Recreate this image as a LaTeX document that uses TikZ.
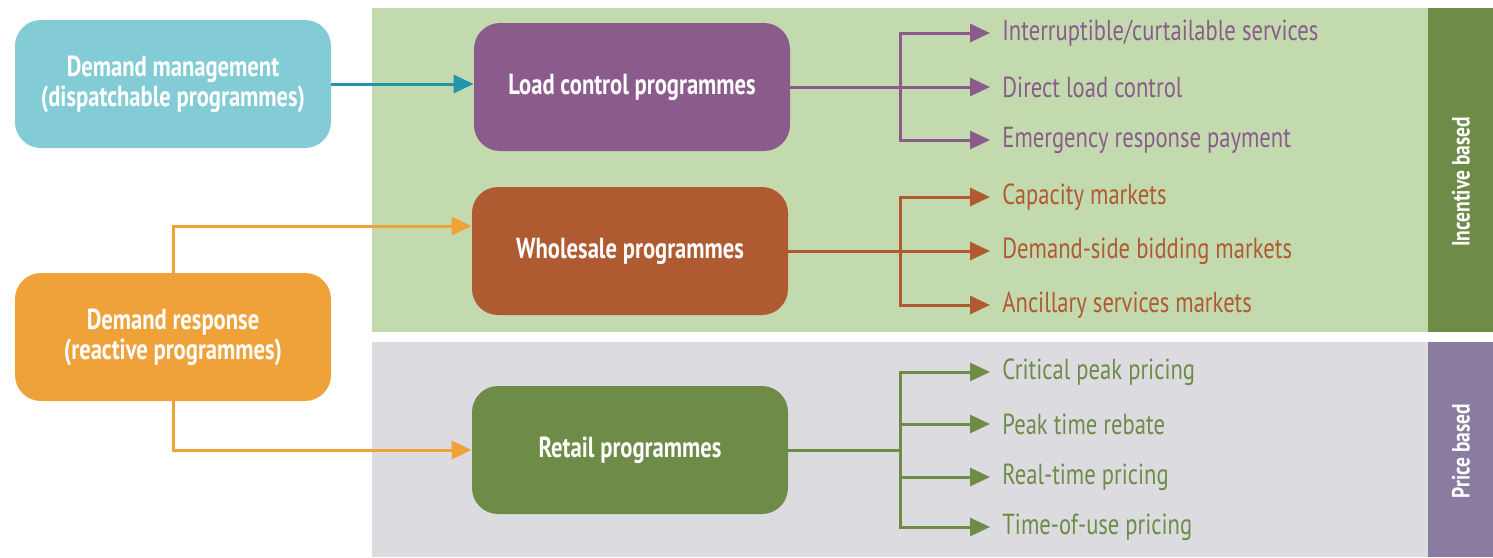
\documentclass[tikz,border=0pt]{standalone}
\usepackage{fontspec}
\setmainfont[FakeStretch=0.78]{PT Sans}
\usetikzlibrary{arrows.meta}
\definecolor{incbg}{HTML}{C3DAAE}
\definecolor{incband}{HTML}{6E8B47}
\definecolor{pribg}{HTML}{DBDBE0}
\definecolor{priband}{HTML}{8A7BA0}
\definecolor{dmcol}{HTML}{84CCD5}
\definecolor{dmarrow}{HTML}{2196AA}
\definecolor{drcol}{HTML}{EFA23A}
\definecolor{lccol}{HTML}{8B5B8C}
\definecolor{wscol}{HTML}{B05A31}
\definecolor{rtcol}{HTML}{6E8B48}
\begin{document}
\begin{tikzpicture}[x=0.5pt,y=-0.5pt,
	box/.style={rounded corners=13pt,minimum width=158pt,minimum height=64pt,
		text=white,font=\fontsize{14.5}{15}\selectfont\bfseries,align=center,inner sep=0},
	item/.style={anchor=west,inner sep=6pt,font=\fontsize{14.5}{16}\selectfont},
	band/.style={rotate=90,text=white,font=\fontsize{12.5}{14}\selectfont\bfseries},
	tip/.style={-{Triangle[length=10pt,width=9pt]}},
	link/.style={line width=1.5pt,tip},
	fork/.style={line width=1.5pt}]
\useasboundingbox (0,0) rectangle (1493,557);
% panels
\fill[incbg] (372,8) rectangle (1428,332);
\fill[incband] (1428,8) rectangle (1493,332);
\fill[pribg] (372,342) rectangle (1428,557);
\fill[priband] (1428,342) rectangle (1493,557);
\node[band] (inc) at (1461,182) {Incentive based};
\node[band] (pri) at (1461,451) {Price based};
% left boxes
\node[box,fill=dmcol] (dm) at (173,84) {Demand management\\(dispatchable programmes)};
\node[box,fill=drcol] (dr) at (173,337) {Demand response\\(reactive programmes)};
% programme boxes
\node[box,fill=lccol] (lc) at (632,87) {Load control programmes};
\node[box,fill=wscol] (ws) at (630,251) {Wholesale programmes};
\node[box,fill=rtcol] (rt) at (630,450) {Retail programmes};
% programme types
\node[item,text=lccol] (lc1) at (990,33) {Interruptible/curtailable services};
\node[item,text=lccol] (lc2) at (990,87) {Direct load control};
\node[item,text=lccol] (lc3) at (990,140) {Emergency response payment};
\node[item,text=wscol] (ws1) at (990,197) {Capacity markets};
\node[item,text=wscol] (ws2) at (990,251) {Demand-side bidding markets};
\node[item,text=wscol] (ws3) at (990,305) {Ancillary services markets};
\node[item,text=rtcol] (rt1) at (990,372) {Critical peak pricing};
\node[item,text=rtcol] (rt2) at (990,424) {Peak time rebate};
\node[item,text=rtcol] (rt3) at (990,477) {Real-time pricing};
\node[item,text=rtcol] (rt4) at (990,527) {Time-of-use pricing};
% connectors
\draw[link,dmarrow] (dm.east) -- (dm.east -| lc.west);
\draw[link,drcol] (dr.north) |- (ws.west |- 0,226);
\draw[link,drcol] (dr.south) |- (rt.west);
\coordinate (lcf) at (900,87);
\coordinate (wsf) at (900,251);
\coordinate (rtf) at (900,450);
\draw[fork,lccol] (lc.east) -- (lcf);
\draw[fork,wscol] (ws.east) -- (wsf);
\draw[fork,rtcol] (rt.east) -- (rtf);
\foreach \t in {lc1,lc2,lc3}
	\draw[fork,lccol,tip] (lcf) |- (\t.west);
\foreach \t in {ws1,ws2,ws3}
	\draw[fork,wscol,tip] (wsf) |- (\t.west);
\foreach \t in {rt1,rt2,rt3,rt4}
	\draw[fork,rtcol,tip] (rtf) |- (\t.west);
\end{tikzpicture}
\end{document}
